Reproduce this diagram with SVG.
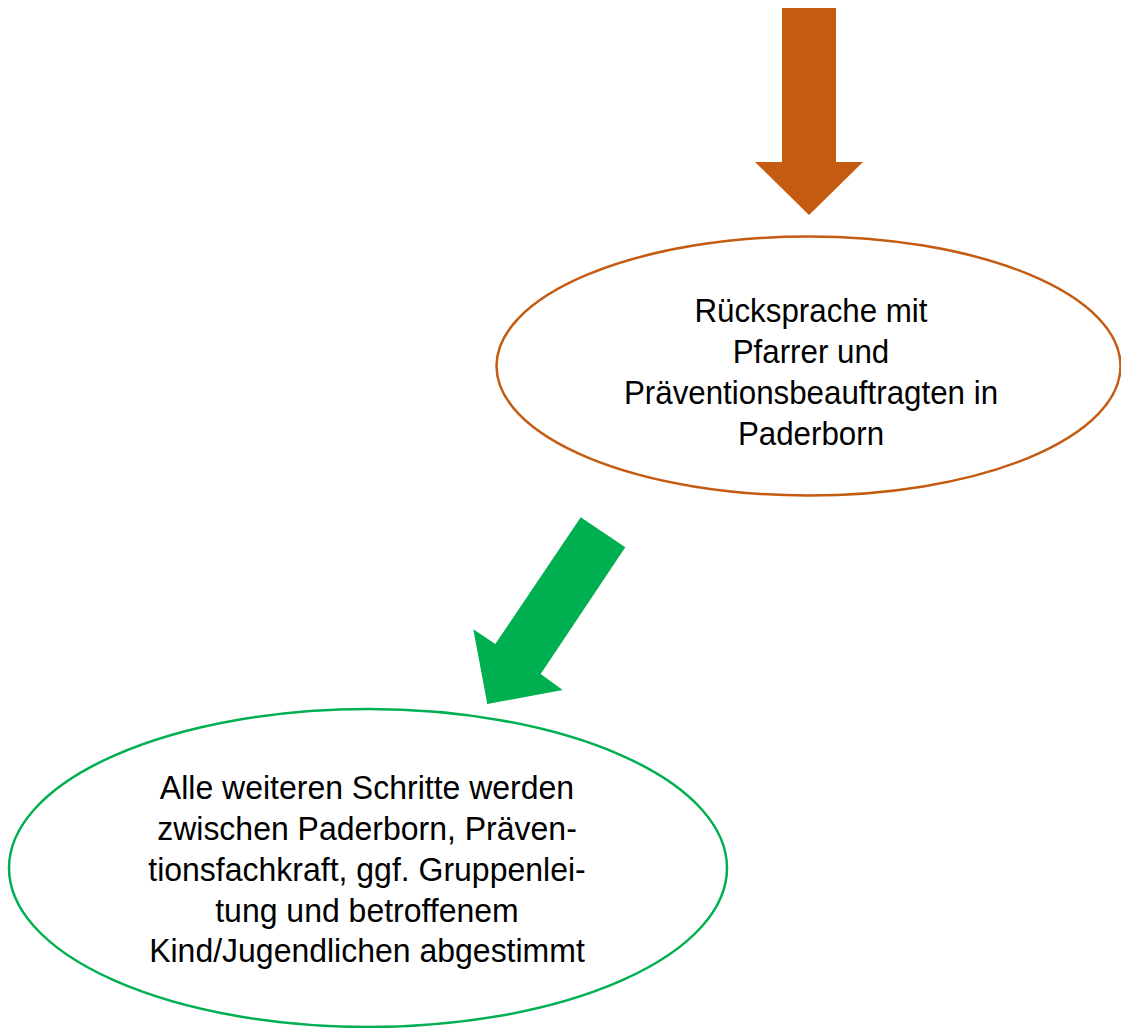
<svg xmlns="http://www.w3.org/2000/svg" width="1121" height="1028" viewBox="0 0 1121 1028">
<style>
.t{font-family:"Liberation Sans",Arial,sans-serif;font-size:33.5px;fill:#000;text-anchor:middle}
.o{fill:#fff;stroke:#C55A11;stroke-width:2.5}
.g{fill:#fff;stroke:#00B050;stroke-width:2.5}
</style>
<rect width="1121" height="1028" fill="#fff"/>
<g id="connectors">
<polygon id="arrow1" fill="#C55A11" points="782,8 836,8 836,162 863,162 809,215 755,162 782,162"/>
<polygon id="arrow2" fill="#00B050" points="580.7,517.3 625.3,547.3 540.7,674 562.7,690 487.3,704 473.3,629.3 495.3,644"/>
</g>
<g id="node1">
<ellipse class="o" cx="808.5" cy="366" rx="312" ry="129.5"/>
<g transform="matrix(0.935 0 0 1 52.7 0)">
<text class="t" x="811" y="322">Rücksprache mit</text>
<text class="t" x="811" y="363">Pfarrer und</text>
<text class="t" x="811" y="404">Präventionsbeauftragten in</text>
<text class="t" x="811" y="445">Paderborn</text>
</g>
</g>
<g id="node2">
<ellipse class="g" cx="368" cy="868" rx="359" ry="159"/>
<g transform="matrix(0.955 0 0 1 16.5 0)">
<text class="t" x="367" y="799">Alle weiteren Schritte werden</text>
<text class="t" x="367" y="840">zwischen Paderborn, Präven-</text>
<text class="t" x="367" y="881">tionsfachkraft, ggf. Gruppenlei-</text>
<text class="t" x="367" y="922">tung und betroffenem</text>
<text class="t" x="367" y="962">Kind/Jugendlichen abgestimmt</text>
</g>
</g>
</svg>
